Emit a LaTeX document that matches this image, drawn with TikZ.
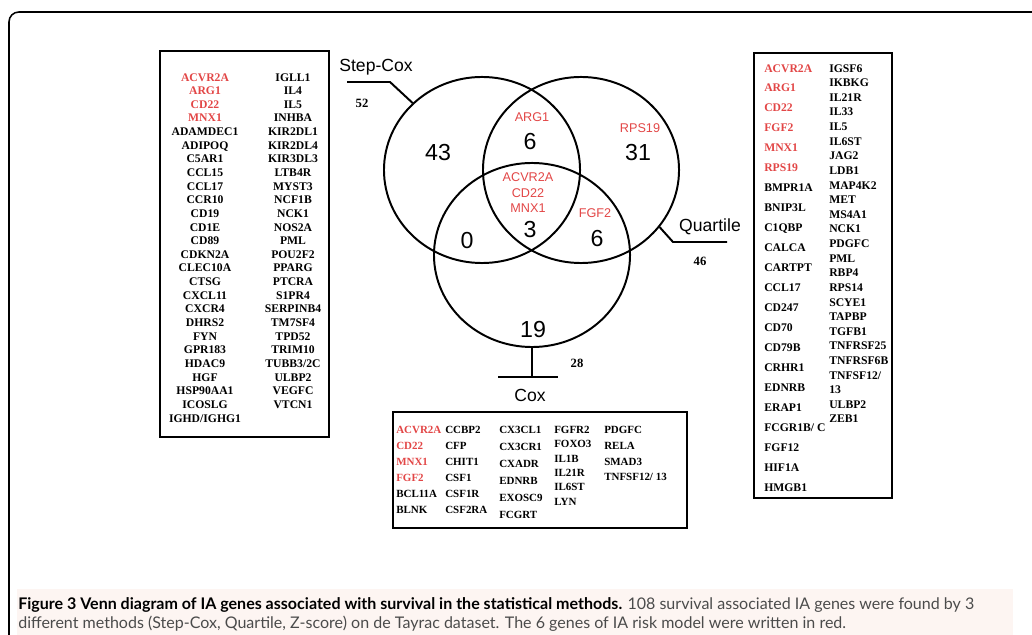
\documentclass[tikz,border=0pt]{standalone}
\usepackage{fontspec}
\setmainfont{Liberation Serif}
\newfontfamily\vennfont{Liberation Sans}
\newfontfamily\capfont{Lato}
\usetikzlibrary{shapes.geometric}
\definecolor{genered}{RGB}{226,70,70}
\definecolor{capbg}{RGB}{253,245,242}
\definecolor{capgrey}{RGB}{75,75,75}
\newcommand{\rg}[1]{\textcolor{genered}{#1}}

\begin{document}
\begin{tikzpicture}[x=0.025cm, y=-0.025cm,
    venn/.style={draw, ellipse, line width=1.4pt, minimum width=4.9cm, minimum height=4.65cm, inner sep=0},
    count/.style={font=\vennfont\fontsize{16.5}{17}\selectfont},
    hit/.style={text=genered, font=\vennfont\fontsize{9}{11}\selectfont, align=center},
    method/.style={font=\vennfont\fontsize{12.5}{13}\selectfont},
    total/.style={font=\bfseries\fontsize{9}{9}\selectfont},
    leader/.style={line width=1.4pt},
    listbox/.style={draw, line width=1.6pt, inner sep=0},
    genecol/.style={inner sep=0, font=\bfseries\fontsize{8.3}{9.7}\selectfont},
]
    \useasboundingbox (0,0) rectangle (1032,635);

    % Frame and caption
    \draw[line width=1.1pt, rounded corners=7] (1032,12) -- (9,12) -- (9,635);
    \fill[capbg] (17,589) rectangle (1013,635);
    \node[anchor=north west, inner sep=0, align=left, text=capgrey, font=\capfont\fontsize{11.4}{13.4}\selectfont] (caption) at (18,597)
        {\textcolor{black}{\textbf{Figure 3 Venn diagram of IA genes associated with survival in the statistical methods.}} 108 survival associated IA genes were found by 3\\
         different methods (Step-Cox, Quartile, Z-score) on de Tayrac dataset. The 6 genes of IA risk model were written in red.};

    % Venn circles
    \node[venn] (stepcox) at (482,170) {};
    \node[venn] (quartile) at (581,170) {};
    \node[venn, minimum height=4.6cm] (cox) at (532,255) {};

    % Region counts
    \node[count] (only1) at (438,153) {43};
    \node[count] (only2) at (638,153) {31};
    \node[count] (only3) at (533,330) {19};
    \node[count] (pair12) at (530,142) {6};
    \node[count] (pair13) at (467,241) {0};
    \node[count] (pair23) at (597,239) {6};
    \node[count] (all3) at (530,230) {3};
    \node[hit] (hit12) at (532,117) {ARG1};
    \node[hit] (hit2) at (640,128) {RPS19};
    \node[hit] (hit123) at (528,193) {ACVR2A\\CD22\\MNX1};
    \node[hit] (hit23) at (595,213) {FGF2};

    % Method labels
    \coordinate (stepbend) at (390,82);
    \coordinate (stepend) at (347,82);
    \draw[leader] (stepcox.136) -- (stepbend) -- (stepend);
    \node[method] (steplabel) at (376,67) {Step-Cox};
    \node[total] (steptotal) at (362,103) {52};

    \coordinate (quartbend) at (673,242);
    \coordinate (quartend) at (727,242);
    \draw[leader] (quartile.-36) -- (quartbend) -- (quartend);
    \node[method] (quartlabel) at (710,227) {Quartile};
    \node[total] (quarttotal) at (700,261) {46};

    \coordinate (coxfoot) at (532,377);
    \coordinate (coxleft) at (498,377);
    \coordinate (coxright) at (558,377);
    \draw[leader] (cox.south) -- (coxfoot);
    \draw[leader] (coxleft) -- (coxright);
    \node[method] (coxlabel) at (530,395) {Cox};
    \node[total] (coxtotal) at (577,363) {28};

    % Step-Cox gene list
    \node[listbox, line width=1.2pt, minimum width=4.225cm, minimum height=9.65cm] (stepbox) at (244.5,244) {};
    \node[genecol, anchor=north, align=center] (steplistA) at (205,73)
        {\rg{ACVR2A}\\\rg{ARG1}\\\rg{CD22}\\\rg{MNX1}\\ADAMDEC1\\ADIPOQ\\C5AR1\\CCL15\\CCL17\\CCR10\\CD19\\CD1E\\CD89\\CDKN2A\\CLEC10A\\CTSG\\CXCL11\\CXCR4\\DHRS2\\FYN\\GPR183\\HDAC9\\HGF\\HSP90AA1\\ICOSLG\\IGHD/IGHG1};
    \node[genecol, anchor=north, align=center] (steplistB) at (293,73)
        {IGLL1\\IL4\\IL5\\INHBA\\KIR2DL1\\KIR2DL4\\KIR3DL3\\LTB4R\\MYST3\\NCF1B\\NCK1\\NOS2A\\PML\\POU2F2\\PPARG\\PTCRA\\S1PR4\\SERPINB4\\TM7SF4\\TPD52\\TRIM10\\TUBB3/2C\\ULBP2\\VEGFC\\VTCN1};

    % Quartile gene list
    \node[listbox, line width=2pt, minimum width=3.45cm, minimum height=11.125cm] (quartbox) at (823,275.5) {};
    \node[genecol, anchor=north west, align=left, font=\bfseries\fontsize{8.3}{14.2}\selectfont] (quartlistA) at (764,64)
        {\rg{ACVR2A}\\\rg{ARG1}\\\rg{CD22}\\\rg{FGF2}\\\rg{MNX1}\\\rg{RPS19}\\BMPR1A\\BNIP3L\\C1QBP\\CALCA\\CARTPT\\CCL17\\CD247\\CD70\\CD79B\\CRHR1\\EDNRB\\ERAP1\\FCGR1B/ C\\FGF12\\HIF1A\\HMGB1};
    \node[genecol, anchor=north west, align=left, font=\bfseries\fontsize{8.3}{10.4}\selectfont] (quartlistB) at (829,64)
        {IGSF6\\IKBKG\\IL21R\\IL33\\IL5\\IL6ST\\JAG2\\LDB1\\MAP4K2\\MET\\MS4A1\\NCK1\\PDGFC\\PML\\RBP4\\RPS14\\SCYE1\\TAPBP\\TGFB1\\TNFRSF25\\TNFRSF6B\\TNFSF12/\\13\\ULBP2\\ZEB1};

    % Cox gene list
    \node[listbox, line width=2pt, minimum width=7.35cm, minimum height=2.9cm] (coxbox) at (540,470) {};
    \node[genecol, anchor=north west, align=left, font=\bfseries\fontsize{7.8}{11.4}\selectfont] (coxlistA) at (396,426)
        {\rg{ACVR2A}\\\rg{CD22}\\\rg{MNX1}\\\rg{FGF2}\\BCL11A\\BLNK};
    \node[genecol, anchor=north west, align=left, font=\bfseries\fontsize{7.8}{11.4}\selectfont] (coxlistB) at (445,426)
        {CCBP2\\CFP\\CHIT1\\CSF1\\CSF1R\\CSF2RA};
    \node[genecol, anchor=north west, align=left, font=\bfseries\fontsize{7.8}{12.1}\selectfont] (coxlistC) at (499,426)
        {CX3CL1\\CX3CR1\\CXADR\\EDNRB\\EXOSC9\\FCGRT};
    \node[genecol, anchor=north west, align=left, font=\bfseries\fontsize{7.8}{10.2}\selectfont] (coxlistD) at (554,426)
        {FGFR2\\FOXO3\\IL1B\\IL21R\\IL6ST\\LYN};
    \node[genecol, anchor=north west, align=left, font=\bfseries\fontsize{7.8}{11.2}\selectfont] (coxlistE) at (604,426)
        {PDGFC\\RELA\\SMAD3\\TNFSF12/ 13};
\end{tikzpicture}
\end{document}
